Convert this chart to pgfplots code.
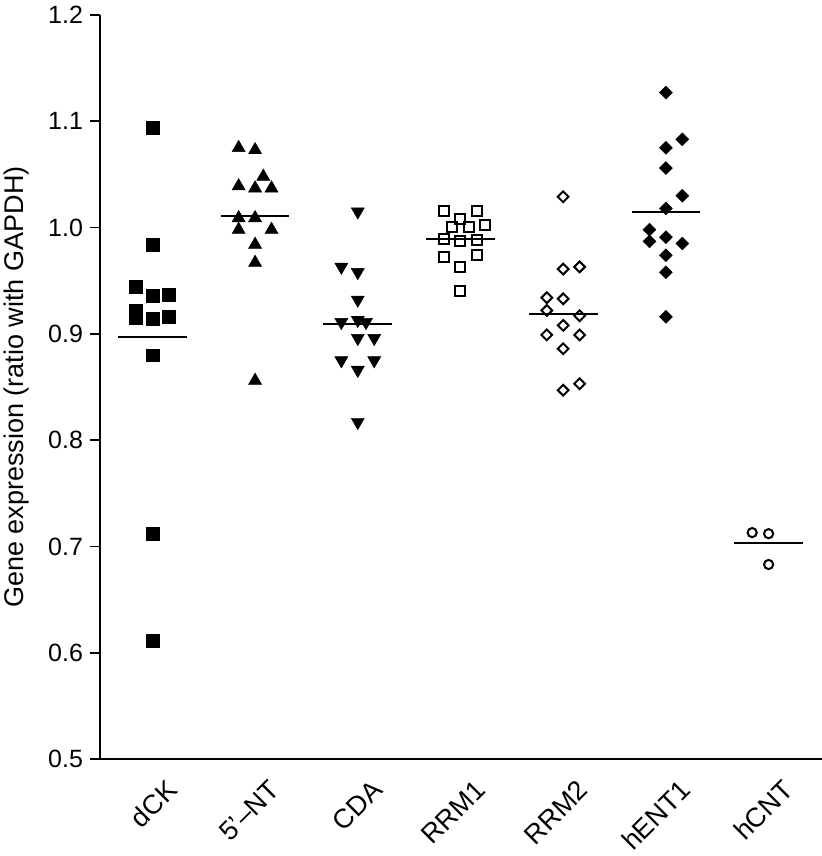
\documentclass[border=0pt]{standalone}
\usepackage{pgfplots}
\pgfplotsset{compat=1.18}
\usepackage{fontspec}
\setmainfont{Liberation Sans}
\begin{document}
\begin{tikzpicture}
\begin{axis}[
  scale only axis,
  width=361pt, height=372pt,
  xmin=-0.51, xmax=6.52,
  ymin=0.5, ymax=1.2,
  axis x line*=bottom, axis y line*=left,
  axis line style={line width=0.9pt},
  ytick={0.5,0.6,...,1.2},
  ytick pos=left,
  tick align=outside,
  major tick length=5pt,
  y tick style={line width=0.9pt, black},
  xtick={0,1,2,3,4,5,6},
  xticklabels={dCK,5'--NT,CDA,RRM1,RRM2,hENT1,hCNT},
  x tick style={draw=none},
  xticklabel style={xshift=10pt, yshift=-8pt, rotate=45, anchor=east, inner sep=0pt, font=\fontsize{13.5}{15}\selectfont},
  yticklabel style={font=\fontsize{12.5}{14}\selectfont, /pgf/number format/fixed, /pgf/number format/fixed zerofill, /pgf/number format/precision=1},
  /pgf/number format/assume math mode=true,
  ylabel={Gene expression (ratio with GAPDH)},
  every axis y label/.style={at={(rel axis cs:-0.1163,0.5)}, rotate=90, anchor=center, font=\fontsize{13.5}{15}\selectfont},
  clip=false,
]
% dCK
\addplot[only marks, mark=square*, mark size=3.2pt, mark options={fill=black, draw=black, line width=0.2pt}] coordinates {
 (0,1.094) (0,0.984) (-0.16,0.944) (0,0.936) (0.16,0.937) (-0.16,0.922) (-0.16,0.915) (0,0.914) (0.16,0.916) (0,0.880) (0,0.712) (0,0.611)};
% 5'-NT
\addplot[only marks, mark=triangle*, mark size=3.8pt, mark options={fill=black, draw=black, line width=0.2pt}] coordinates {
 (0.84,1.075) (1,1.073) (1.08,1.048) (0.84,1.039) (1,1.037) (1.16,1.037) (0.84,1.009) (1,1.009) (0.84,0.998) (1.16,0.998) (1,0.984) (1,0.967) (1,0.856)};
% CDA
\addplot[only marks, mark=triangle*, mark size=3.8pt, mark options={rotate=180, fill=black, draw=black, line width=0.2pt}] coordinates {
 (2,1.015) (1.84,0.963) (2,0.958) (2,0.932) (1.84,0.911) (2,0.913) (2.08,0.911) (2,0.896) (2.16,0.896) (1.84,0.875) (2.16,0.875) (2,0.866) (2,0.817)};
% RRM1
\addplot[only marks, mark=square, mark size=2.5pt, mark options={fill=white, draw=black, line width=1pt}] coordinates {
 (2.84,1.016) (3.16,1.016) (3,1.008) (2.92,1.001) (3.08,1.001) (3.24,1.002) (2.84,0.989) (3,0.987) (3.16,0.988) (2.84,0.972) (3.16,0.974) (3,0.963) (3,0.940)};
% RRM2
\addplot[only marks, mark=square, mark size=1.9pt, mark options={rotate=45, fill=white, draw=black, line width=1pt}] coordinates {
 (4,1.029) (4,0.961) (4.16,0.963) (3.84,0.934) (4,0.933) (3.84,0.922) (4.16,0.917) (4,0.908) (3.84,0.899) (4.16,0.899) (4,0.886) (4,0.847) (4.16,0.853)};
% hENT1
\addplot[only marks, mark=square*, mark size=2.3pt, mark options={rotate=45, fill=black, draw=black, line width=0.2pt}] coordinates {
 (5,1.127) (5.16,1.083) (5,1.075) (5,1.056) (5.16,1.030) (5,1.018) (4.84,0.998) (4.84,0.987) (5,0.991) (5.16,0.985) (5,0.974) (5,0.958) (5,0.916)};
% hCNT
\addplot[only marks, mark=o, mark size=2.3pt, mark options={draw=black, line width=1pt}] coordinates {
 (5.84,0.713) (6,0.712) (6,0.683)};
% mean lines
\addplot[black, line width=1pt] coordinates {(-0.335,0.897) (0.335,0.897)};
\addplot[black, line width=1pt] coordinates {(0.665,1.011) (1.335,1.011)};
\addplot[black, line width=1pt] coordinates {(1.665,0.909) (2.335,0.909)};
\addplot[black, line width=1pt] coordinates {(2.665,0.989) (3.335,0.989)};
\addplot[black, line width=1pt] coordinates {(3.665,0.919) (4.335,0.919)};
\addplot[black, line width=1pt] coordinates {(4.665,1.015) (5.335,1.015)};
\addplot[black, line width=1pt] coordinates {(5.665,0.703) (6.335,0.703)};
\end{axis}
\pgfresetboundingbox
\path[use as bounding box] (-50pt,-48.5pt) rectangle (361pt,379.5pt);
\end{tikzpicture}
\end{document}
